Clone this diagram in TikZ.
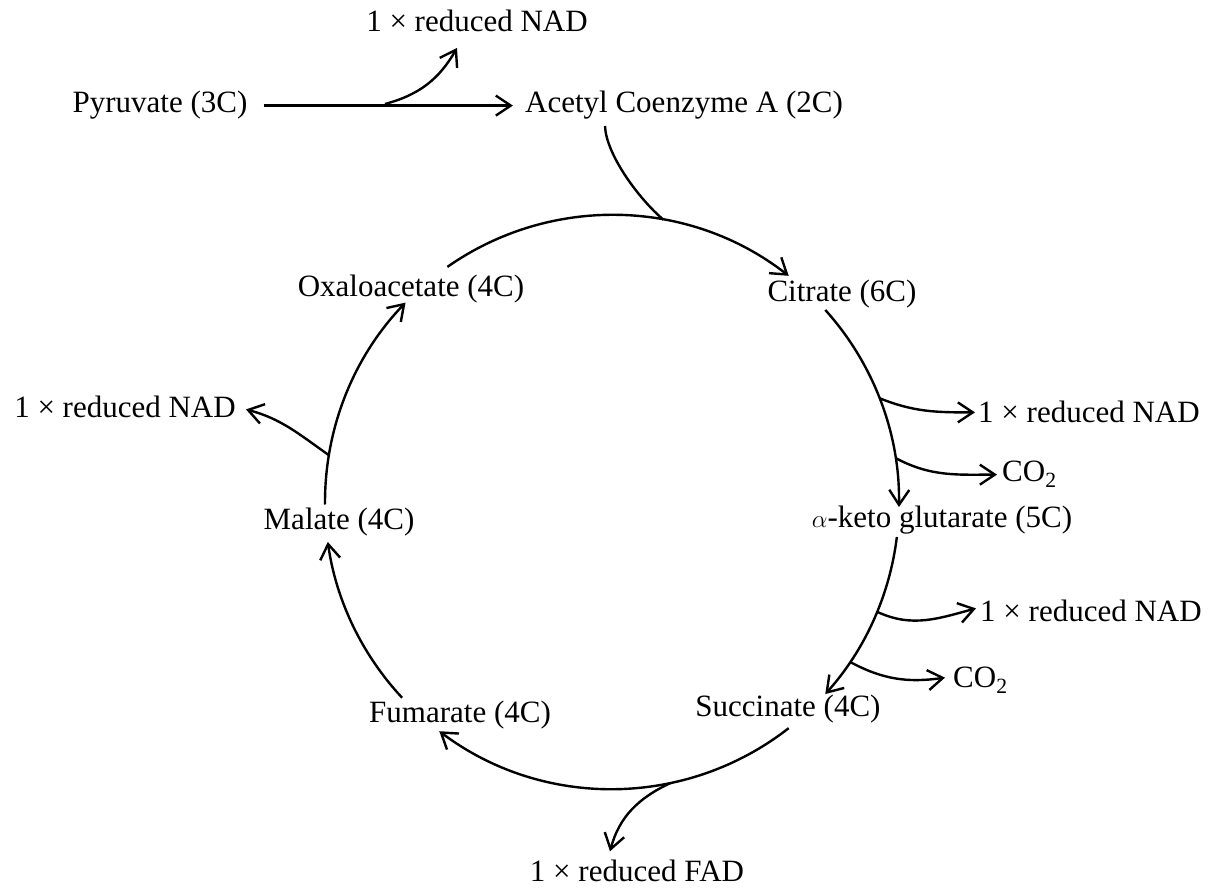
\documentclass[tikz,border=0pt]{standalone}
\usepackage{fontspec}
\setmainfont{Liberation Serif}
\usetikzlibrary{arrows.meta,calc}
\begin{document}
\begin{tikzpicture}[x=1pt,y=1pt,
  lbl/.style={font=\fontsize{31}{37}\selectfont, inner sep=0pt, anchor=base},
  ln/.style={line width=2.4pt},
  arr/.style={line width=2.4pt,-{Straight Barb[length=15pt,width=20pt]}}]
\useasboundingbox (0,0) rectangle (1216,889);
\coordinate (O) at (612,387);
\def\R{287}
% labels
\node[lbl] (nadtop) at (477,857) {1 × reduced NAD};
\node[lbl] (pyr) at (160,776) {Pyruvate (3C)};
\node[lbl] (acetyl) at (684,776) {Acetyl Coenzyme A (2C)};
\node[lbl] (oxalo) at (411,592) {Oxaloacetate (4C)};
\node[lbl] (citrate) at (842,587) {Citrate (6C)};
\node[lbl,anchor=base west] (nadb) at (978,466) {1 × reduced NAD};
\node[lbl,anchor=base west] (coa) at (1002,407) {CO\textsubscript{2}};
\node[lbl] (akg) at (942,361) {$\alpha$-keto glutarate (5C)};
\node[lbl,anchor=base west] (nadc) at (980,267) {1 × reduced NAD};
\node[lbl,anchor=base west] (cob) at (953,201) {CO\textsubscript{2}};
\node[lbl] (succ) at (788,172) {Succinate (4C)};
\node[lbl] (fum) at (460,166) {Fumarate (4C)};
\node[lbl] (fad) at (637,7) {1 × reduced FAD};
\node[lbl] (malate) at (339,359) {Malate (4C)};
\node[lbl] (nadd) at (125,471) {1 × reduced NAD};
% pyruvate to acetyl CoA
\draw[arr] ([xshift=16pt]pyr.east) -- ([xshift=-12pt]acetyl.west);
\coordinate (br0) at (385,785);
\draw[arr] (br0) to[out=15,in=-120] ($(nadtop.base)+(-20,-16)$);
% acetyl CoA joins the cycle
\coordinate (acs) at ($(acetyl.base)+(-79,-13)$);
\coordinate (J) at ($(O)+(79.7:\R)$);
\draw[ln] (acs) .. controls (606,735) and (638,691) .. (J);
% cycle arcs
\coordinate (a1) at ($(O)+(125:\R)$);
\coordinate (a2) at ($(O)+(42:\R)$);
\coordinate (a3) at ($(O)+(-7:\R)$);
\coordinate (a4) at ($(O)+(-52:\R)$);
\coordinate (a5) at ($(O)+(-137:\R)$);
\coordinate (a6) at ($(O)+(180.5:\R)$);
\draw[arr] (a1) arc[start angle=125,end angle=52,radius=\R];
\draw[arr] (a2) arc[start angle=42,end angle=-1,radius=\R];
\draw[arr] (a3) arc[start angle=-7,end angle=-42,radius=\R];
\draw[arr] (a4) arc[start angle=-52,end angle=-127,radius=\R];
\draw[arr] (a5) arc[start angle=-137,end angle=-172,radius=\R];
\draw[arr] (a6) arc[start angle=180.5,end angle=136,radius=\R];
% side products
\coordinate (b1) at ($(O)+(21.2:\R)$);
\coordinate (b2) at ($(O)+(8.8:\R)$);
\coordinate (b3) at ($(O)+(-22.5:\R)$);
\coordinate (b4) at ($(O)+(-33.9:\R)$);
\coordinate (b5) at ($(O)+(-78.2:\R)$);
\coordinate (b6) at ($(O)+(170.6:\R)$);
\draw[arr] (b1) to[out=-22,in=180] ($(nadb.west)+(-3,0)$);
\draw[arr] (b2) to[out=-28,in=180] ($(coa.west)+(-5,0)$);
\draw[arr] (b3) to[out=-25,in=195] ($(nadc.west)+(-4,3)$);
\draw[arr] (b4) to[out=-28,in=188] ($(cob.west)+(-8,3)$);
\draw[arr] (b5) to[out=205,in=75] ($(fad.north)+(-27,9)$);
\draw[arr] (b6) to[out=145,in=-15] ($(nadd.east)+(10,-2)$);
\end{tikzpicture}
\end{document}
